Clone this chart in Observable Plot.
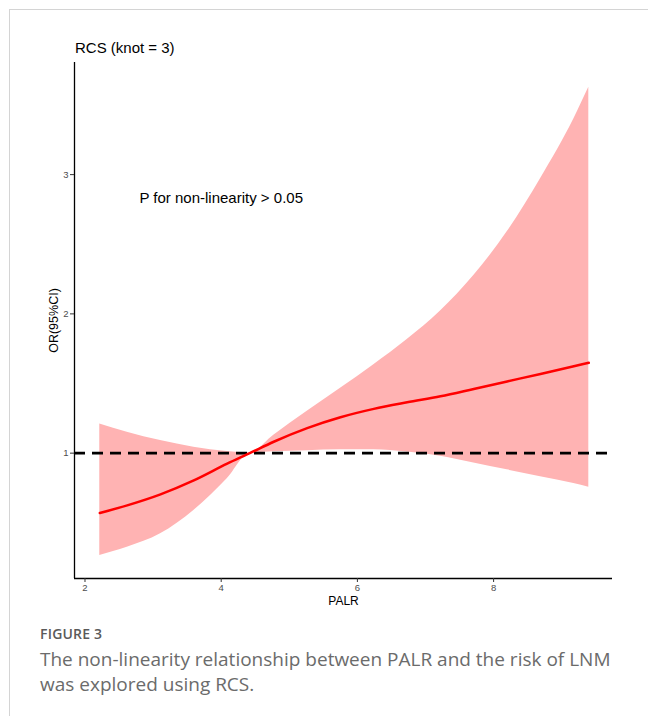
<!DOCTYPE html>
<html>
<head>
<meta charset="utf-8">
<script src="https://cdn.jsdelivr.net/npm/d3@7"></script>
<script src="https://cdn.jsdelivr.net/npm/@observablehq/plot@0.6"></script>
<style>
  body { margin: 0; background: #fff; }
  #wrap { position: relative; width: 648px; height: 716px; overflow: hidden; background: #fff; }
  #frame { position: absolute; left: 9px; top: 9px; width: 700px; height: 760px; border-top: 1px solid #d4d4d4; border-left: 1px solid #d4d4d4; }
  #chart { position: absolute; left: 0; top: 0; }
  #title { position: absolute; left: 75px; top: 39px; font: 15px "Liberation Sans", Arial, sans-serif; color: #000; }
  #fig { position: absolute; left: 40px; top: 624px; font: 600 14px "Open Sans", sans-serif; color: #5a5a5a; letter-spacing: 0.2px; }
  #cap { position: absolute; left: 40px; top: 647px; width: 608px; font: 19px "Open Sans", sans-serif; line-height: 25px; color: #6b6b6b; white-space: nowrap; }
</style>
</head>
<body>
<div id="wrap">
  <div id="frame"></div>
  <div id="chart"></div>
  <div id="title">RCS (knot = 3)</div>
  <div id="fig">FIGURE 3</div>
  <div id="cap">The non-linearity relationship between PALR and the risk of LNM<br>was explored using RCS.</div>
</div>
<script>
// PALR values
const palr  = [2.217, 2.62, 3.109, 3.598, 4.088, 4.42, 4.772, 5.263, 5.752, 6.241, 6.731, 7.22, 7.709, 8.199, 8.689, 9.178, 9.398];
// Odds ratio (fit)
const orFit = [0.57, 0.625, 0.704, 0.804, 0.924, 1.0, 1.082, 1.18, 1.258, 1.318, 1.365, 1.408, 1.461, 1.515, 1.569, 1.624, 1.649];
// 95% CI lower bound
const lower = [0.266, 0.325, 0.421, 0.589, 0.816, 1.0, 1.01, 1.018, 1.025, 1.025, 1.008, 0.978, 0.93, 0.88, 0.831, 0.782, 0.756];
// 95% CI upper bound
const upper = [1.21, 1.15, 1.09, 1.043, 1.012, 1.0, 1.128, 1.30, 1.466, 1.635, 1.816, 2.021, 2.275, 2.589, 2.971, 3.40, 3.627];

const xTicks = [2, 4, 6, 8];
const yTicks = [1, 2, 3];
const refOR = [1];
const note = ["P for non-linearity > 0.05"];

const data = palr.map((x, i) => ({x, or: orFit[i], lo: lower[i], hi: upper[i]}));

const xDom = [1.846, 9.746];
const yDom = [0.1, 3.805];

const chart = Plot.plot({
  width: 648,
  height: 610,
  marginLeft: 74,
  marginRight: 36,
  marginTop: 62,
  marginBottom: 32,
  style: {fontFamily: "'Liberation Sans', Arial, sans-serif", background: "transparent", overflow: "visible"},
  x: {domain: xDom},
  y: {domain: yDom},
  marks: [
    Plot.areaY(data, {x: "x", y1: "lo", y2: "hi", fill: "#ffb3b3", curve: "monotone-x"}),
    Plot.ruleY(refOR, {stroke: "#000", strokeWidth: 2.8, strokeDasharray: "11,7"}),
    Plot.lineY(data, {x: "x", y: "or", stroke: "#ff0000", strokeWidth: 2.5, curve: "monotone-x"}),
    Plot.ruleX([xDom[0]], {stroke: "#000", strokeWidth: 1.3}),
    Plot.ruleY([yDom[0]], {stroke: "#000", strokeWidth: 1.3}),
    Plot.axisX({ticks: xTicks, tickFormat: d3.format("d"), tickSize: 4, tickPadding: 2, fontSize: 9.5, color: "#4d4d4d", stroke: "#333", label: null}),
    Plot.axisY({ticks: yTicks, tickFormat: d3.format("d"), tickSize: 4, tickPadding: 2, fontSize: 9.5, color: "#4d4d4d", stroke: "#333", label: null}),
    Plot.text(note, {x: 4, y: 2.83, text: d => d, textAnchor: "middle", fontSize: 15, fill: "#000"}),
    Plot.text(["PALR"], {frameAnchor: "bottom", dy: 26, text: d => d, fontSize: 12, fill: "#000"}),
    Plot.text(["OR(95%CI)"], {frameAnchor: "left", dx: -21, textAnchor: "middle", rotate: -90, text: d => d, fontSize: 12.5, fill: "#000"})
  ]
});
document.getElementById("chart").appendChild(chart);
</script>
</body>
</html>
